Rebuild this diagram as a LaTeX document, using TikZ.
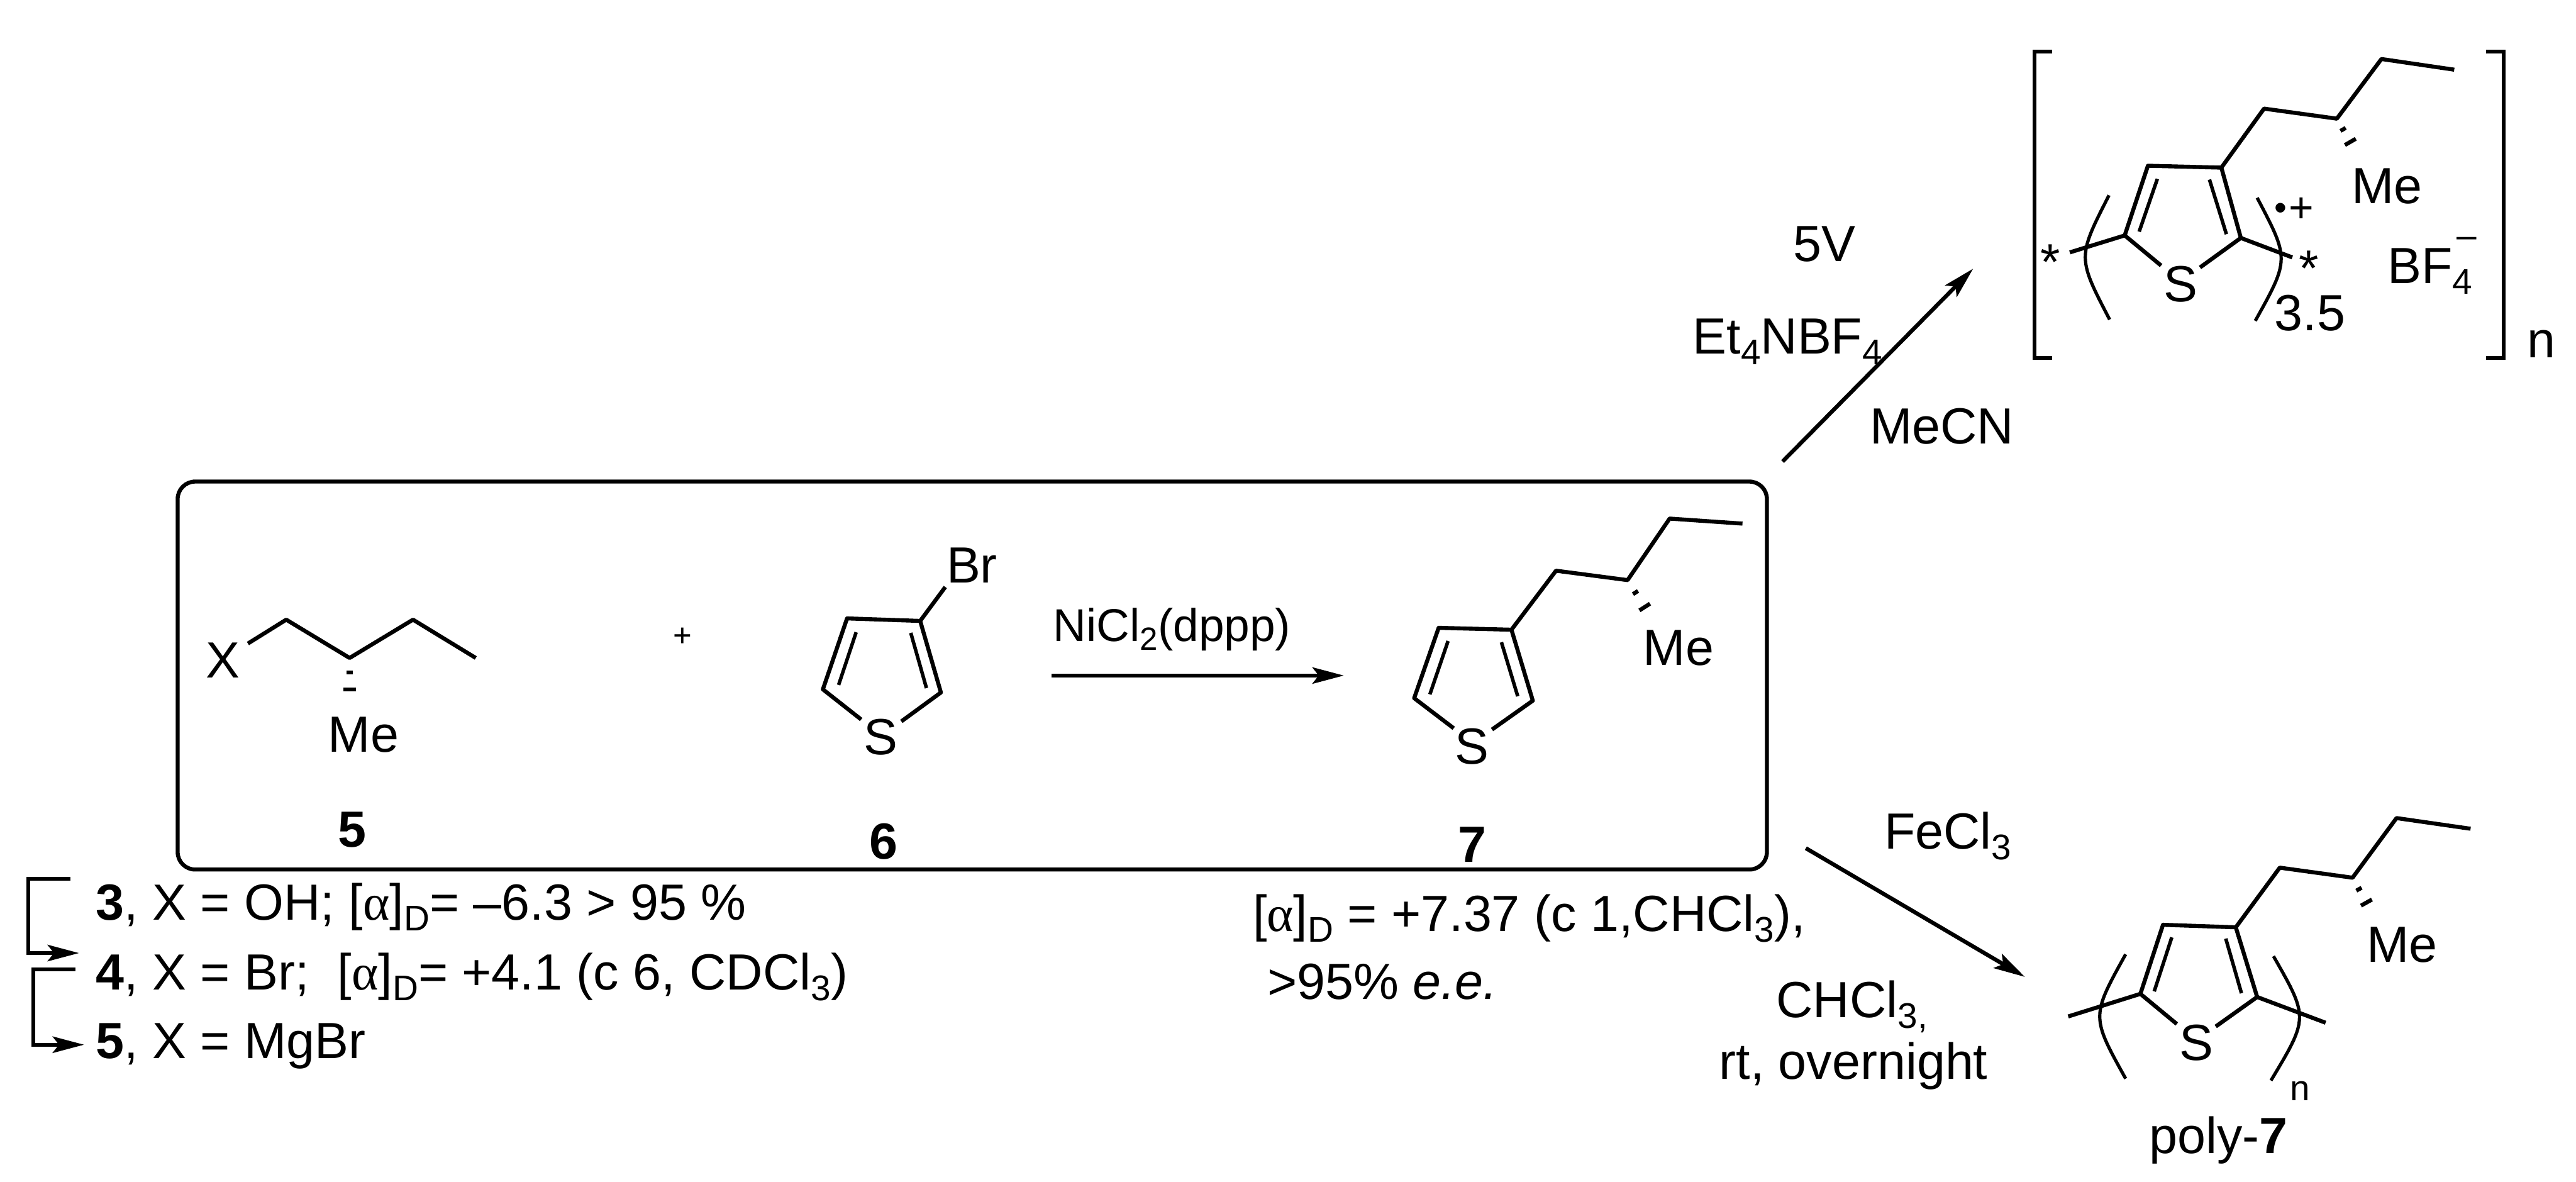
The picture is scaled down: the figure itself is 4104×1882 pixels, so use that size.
\documentclass[tikz,border=0pt]{standalone}
\usepackage{fontspec}
\setmainfont{Liberation Sans}
\newfontfamily\grk{Liberation Serif}
\usetikzlibrary{arrows.meta,calc}
\newcommand{\chsub}[1]{\raisebox{-4.25pt}{\fontsize{14.2}{14.2}\selectfont #1}}
\newcommand{\chsubs}[1]{\raisebox{-3.6pt}{\fontsize{12.8}{12.8}\selectfont #1}}
\newcommand{\galpha}{{\grk α}}
% atoms of one thiophene ring: prefix, then C2, C3, C4, C5 ends and S-side bond ends, inner bonds
\newcommand{\ring}[9]{%
  \coordinate (#1a) at (#2); \coordinate (#1b) at (#3); \coordinate (#1c) at (#4);
  \coordinate (#1d) at (#5); \coordinate (#1e) at (#6); \coordinate (#1f) at (#7);
  \draw[bond] (#1e) -- (#1f) -- (#1a) -- (#1b) -- (#1c) -- (#1d);
  \draw[bondthin] #8;
  \draw[bondthin] #9;}
\newcommand{\hashb}[2]{%
  \foreach \t/\w in {0.3/1.2pt,0.65/2.5pt,1/3.8pt}{
    \draw[bond] ($(#1)!\t!(#2)!\w!90:(#2)$) -- ($(#1)!\t!(#2)!\w!-90:(#2)$);}}
\tikzset{
  bond/.style={line width=1.6pt,line join=round},
  bondthin/.style={line width=1.4pt},
  paren/.style={line width=1.3pt},
  frame/.style={draw,line width=1.6pt,rounded corners=7pt,inner sep=0pt,outer sep=0pt,minimum width=633pt,minimum height=154.5pt},
  rarrow/.style={line width=1.6pt,-{Stealth[length=12.5pt,width=6.5pt,inset=2.5pt]}},
  lab/.style={inner sep=0pt,outer sep=0pt,anchor=base,font=\fontsize{20.25}{24}\selectfont},
  labl/.style={lab,anchor=base west},
  smalllab/.style={lab,font=\fontsize{14.2}{14.2}\selectfont},
}
\begin{document}
\begin{tikzpicture}[x=0.25pt,y=-0.25pt]
\useasboundingbox (0,0) rectangle (4104,1882);
\node[frame] (box) at (1549,1076) {};

% compound 5
\coordinate (p1) at (395,1025); \coordinate (p2) at (456,987); \coordinate (p3) at (557,1048);
\coordinate (p4) at (658,987); \coordinate (p5) at (758,1048); \coordinate (p6) at (557,1125);
\draw[bond] (p1) -- (p2) -- (p3) -- (p4) -- (p5);
\hashb{p3}{p6}
\node[lab] (x5) at (355,1080) {X};
\node[lab] (me5) at (579,1198) {Me};
\node[lab] (n5) at (561,1349) {\textbf{5}};
\node[lab,font=\fontsize{12.75}{14}\selectfont] (plus) at (1087,1030) {+};

% compound 6
\ring{q}{1349.5,985}{1466,989}{1499,1103}{1436,1149}{1372,1146}{1311,1098}{(1364,1007) -- (1336,1091)}{(1451,1008) -- (1476,1096)}
\coordinate (qbr) at (1506,935);
\draw[bond] (qb) -- (qbr);
\node[lab] (s6) at (1403,1202) {S};
\node[labl] (br6) at (1508,928) {Br};
\node[lab] (n6) at (1408,1368) {\textbf{6}};

% first arrow
\coordinate (ra) at (1675,1076); \coordinate (rb) at (2141,1076);
\draw[rarrow] (ra) -- (rb);
\node[labl,font=\fontsize{18.3}{22}\selectfont] (ni) at (1678,1021) {NiCl\chsubs{2}(dppp)};

% compound 7
\ring{r}{2292,1000}{2408,1003}{2442,1116}{2377,1162}{2316,1160}{2253,1112}{(2307,1021) -- (2278,1106)}{(2392,1023) -- (2418,1109)}
\coordinate (r1) at (2479,909); \coordinate (r2) at (2593,924); \coordinate (r3) at (2660,826);
\coordinate (r4) at (2776,834); \coordinate (r5) at (2635,990);
\draw[bond] (rb) -- (r1) -- (r2) -- (r3) -- (r4);
\hashb{r2}{r5}
\node[lab] (me7) at (2674,1060) {Me};
\node[lab] (s7) at (2345,1217) {S};
\node[lab] (n7) at (2346,1373) {\textbf{7}};
\node[labl] (rot7) at (1996,1483) {[\galpha]\chsub{D} = +7.37 (c 1,CHCl\chsub{3}),};
\node[labl] (ee7) at (2019,1592) {>95\% \textit{e.e.}};

% labels under the box
\node[labl] (l3) at (153,1465) {\textbf{3}, X = OH; [\galpha]\chsub{D}= –6.3 > 95 \%};
\node[labl] (l4) at (153,1577) {\textbf{4}, X = Br;\ \ [\galpha]\chsub{D}= +4.1 (c 6, CDCl\chsub{3})};
\node[labl] (l5) at (153,1686) {\textbf{5}, X = MgBr};
\coordinate (b1) at (112,1400); \coordinate (b2) at (45,1400); \coordinate (b3) at (45,1518); \coordinate (b4) at (126,1518);
\coordinate (c1) at (120,1544); \coordinate (c2) at (53,1544); \coordinate (c3) at (53,1664); \coordinate (c4) at (134,1664);
\draw[rarrow] (b1) -- (b2) -- (b3) -- (b4);
\draw[rarrow] (c1) -- (c2) -- (c3) -- (c4);

% upper reaction
\coordinate (ua) at (2840,735); \coordinate (ub) at (3143.5,428);
\draw[rarrow] (ua) -- (ub);
\node[lab] (v5) at (2907,416) {5V};
\node[labl] (et) at (2697,564) {Et\chsub{4}NBF\chsub{4}};
\node[labl] (mecn) at (2979,707) {MeCN};

% salt
\ring{t}{3422,264}{3539,267}{3570,379}{3505,426}{3443,423}{3385,375}{(3437,285) -- (3408,369)}{(3520,286) -- (3547,373)}
\coordinate (t1) at (3607,173); \coordinate (t2) at (3723,189); \coordinate (t3) at (3794,94);
\coordinate (t4) at (3910,111); \coordinate (t5) at (3756,246);
\coordinate (t6) at (3297.5,402); \coordinate (t7) at (3652,410);
\draw[bond] (tb) -- (t1) -- (t2) -- (t3) -- (t4);
\draw[bond] (tf) -- (t6);
\draw[bond] (tc) -- (t7);
\hashb{t2}{t5}
\node[lab] (met) at (3803,324) {Me};
\node[lab] (st) at (3474,480) {S};
\node[lab] (stara) at (3267,445) {*};
\node[lab] (starb) at (3678,455) {*};
\node[smalllab] (dot) at (3633,350) {•};
\node[lab,font=\fontsize{17}{17}\selectfont] (pl) at (3666,354) {+};
\node[labl] (num) at (3624,527) {3.5};
\node[labl] (bf) at (3804,451.5) {BF\chsub{4}};
\node[smalllab] (minus) at (3930,394) {–};
\node[labl] (nt) at (4026,570) {n};
\coordinate (lp1) at (3360,311); \coordinate (lp2) at (3309.5,410); \coordinate (lp3) at (3361,509);
\coordinate (rp1) at (3596,315); \coordinate (rp2) at (3647.5,413); \coordinate (rp3) at (3593,511);
\draw[paren] (lp1) .. controls (lp2) .. (lp3);
\draw[paren] (rp1) .. controls (rp2) .. (rp3);
\coordinate (k1) at (3269,82); \coordinate (k2) at (3241,82); \coordinate (k3) at (3241,570); \coordinate (k4) at (3269,570);
\coordinate (m1) at (3961,82); \coordinate (m2) at (3989,82); \coordinate (m3) at (3989,570); \coordinate (m4) at (3961,570);
\draw[bond,line join=miter] (k1) -- (k2) -- (k3) -- (k4);
\draw[bond,line join=miter] (m1) -- (m2) -- (m3) -- (m4);

% lower reaction
\coordinate (va) at (2877,1351); \coordinate (vb) at (3226,1556);
\draw[rarrow] (va) -- (vb);
\node[labl] (fe) at (3002,1352) {FeCl\chsub{3}};
\node[labl] (chcl) at (2830,1621) {CHCl\chsub{3}\chsub{,}};
\node[labl] (rt) at (2739,1719) {rt, overnight};

% poly-7
\ring{u}{3446,1473}{3562,1477}{3596,1588}{3530,1635}{3468,1631}{3410,1583}{(3460,1493) -- (3432,1579)}{(3546,1495) -- (3571,1582)}
\coordinate (u1) at (3632,1382); \coordinate (u2) at (3748,1398); \coordinate (u3) at (3818,1303);
\coordinate (u4) at (3936,1320); \coordinate (u5) at (3782,1459);
\coordinate (u6) at (3295,1619); \coordinate (u7) at (3705,1629);
\draw[bond] (ub) -- (u1) -- (u2) -- (u3) -- (u4);
\draw[bond] (uf) -- (u6);
\draw[bond] (uc) -- (u7);
\hashb{u2}{u5}
\node[lab] (meu) at (3827,1532) {Me};
\node[lab] (su) at (3499,1689) {S};
\node[labl,font=\fontsize{14.2}{14.2}\selectfont] (nu) at (3649,1753) {n};
\node[labl] (poly) at (3424,1837) {poly-\textbf{7}};
\coordinate (lq1) at (3386.5,1520); \coordinate (lq2) at (3331.5,1619); \coordinate (lq3) at (3386.5,1718);
\coordinate (rq1) at (3622,1523); \coordinate (rq2) at (3678,1621); \coordinate (rq3) at (3618,1721);
\draw[paren] (lq1) .. controls (lq2) .. (lq3);
\draw[paren] (rq1) .. controls (rq2) .. (rq3);
\end{tikzpicture}
\end{document}
